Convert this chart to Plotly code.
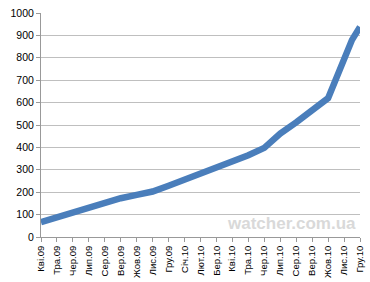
import plotly.graph_objects as go

months = ["Кві.09", "Тра.09", "Чер.09", "Лип.09", "Сер.09", "Вер.09", "Жов.09",
          "Лис.09", "Гру.09", "Січ.10", "Лют.10", "Бер.10", "Кві.10", "Тра.10",
          "Чер.10", "Лип.10", "Сер.10", "Вер.10", "Жов.10", "Лис.10", "Гру.10"]
# positions of the readings along the month axis (month index)
x_pos = [0, 1, 2, 3, 4, 5, 6, 7, 8, 9, 10, 11, 12, 13, 14, 15, 16, 17, 18, 19.5, 20]
values = [66, 88, 108, 130, 153, 173, 188, 203, 229, 256, 281, 307, 337, 365,
          398, 462, 512, 565, 620, 880, 938]
y_ticks = [0, 100, 200, 300, 400, 500, 600, 700, 800, 900, 1000]

fig = go.Figure()
fig.add_trace(go.Scatter(
    x=x_pos, y=values, mode="lines",
    line=dict(color="#4A7EBB", width=6.5),
    hoverinfo="skip", showlegend=False,
))

fig.add_annotation(
    text="watcher.com.ua", xref="paper", yref="paper",
    x=0.995, y=0.06, xanchor="right", yanchor="middle",
    showarrow=False,
    font=dict(family="Liberation Sans", size=17, color="#D9D9D9", weight="bold"),
)

fig.update_layout(
    width=370, height=282, autosize=False,
    margin=dict(l=41, r=10, t=13, b=45),
    paper_bgcolor="white", plot_bgcolor="white",
    font=dict(family="Liberation Sans", color="#000000"),
    xaxis=dict(
        range=[0, 20], tickmode="array",
        tickvals=list(range(len(months))), ticktext=months,
        tickangle=-90, tickfont=dict(size=9.5),
        showgrid=False, zeroline=False, automargin=False,
        showline=True, linecolor="#999999", linewidth=1,
        ticks="outside", ticklen=4, tickcolor="#999999",
    ),
    yaxis=dict(
        range=[0, 1000], tickmode="array", tickvals=y_ticks,
        tickfont=dict(size=10.5), automargin=False,
        showgrid=True, gridcolor="#BFBFBF", gridwidth=1,
        zeroline=False,
        showline=True, linecolor="#999999", linewidth=1,
        ticks="outside", ticklen=4, tickcolor="#999999",
    ),
)

fig.write_html("out.html")
